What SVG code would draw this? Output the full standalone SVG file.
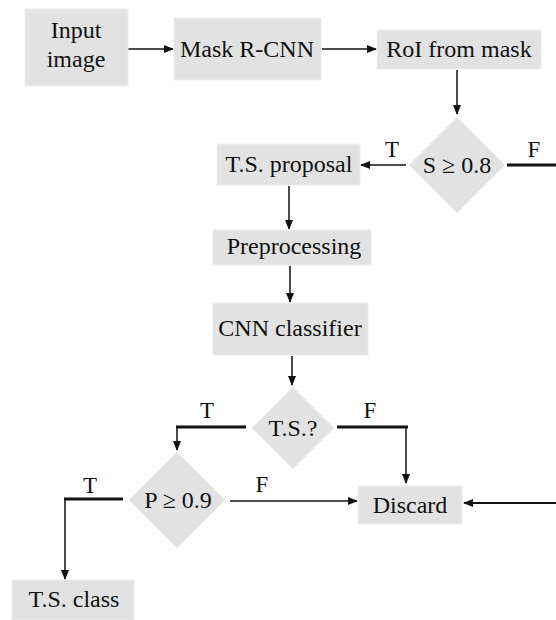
<svg xmlns="http://www.w3.org/2000/svg" width="556" height="620" viewBox="0 0 556 620">
  <style>
    .box { fill: #e2e2e2; stroke: #ededed; stroke-width: 1; }
    .dia { fill: #e2e2e2; }
    .txt { font-family: "Liberation Serif", "Times New Roman", serif; font-size: 24px; fill: #111; text-anchor: middle; }
    .lbl { font-family: "Liberation Serif", "Times New Roman", serif; font-size: 23px; fill: #111; text-anchor: middle; }
    .arr { fill: none; stroke: #111; stroke-width: 1.5; marker-end: url(#head); }
    .bar { fill: none; stroke: #111; stroke-width: 3; }
  </style>
  <defs>
    <marker id="head" markerUnits="userSpaceOnUse" markerWidth="10" markerHeight="8" refX="9" refY="4" orient="auto">
      <path d="M0,0 L10,4 L0,8 Z" fill="#111"/>
    </marker>
  </defs>
  <rect width="556" height="620" fill="#ffffff"/>

  <g id="connectors">
    <path class="arr" d="M128,49 H173"/>
    <path class="arr" d="M322,49 H376"/>
    <path class="arr" d="M457,70 V114"/>
    <path class="arr" d="M406,165 H361"/>
    <path class="bar" d="M507,165 H556"/>
    <path class="arr" d="M289,186 V229"/>
    <path class="arr" d="M290,266 V302"/>
    <path class="arr" d="M292,356 V385"/>
    <path class="bar" d="M246,427 H176"/>
    <path class="arr" d="M177,426 V450"/>
    <path class="bar" d="M337,427 H408"/>
    <path class="arr" d="M406,426 V483"/>
    <path class="bar" d="M123,499 H64"/>
    <path class="arr" d="M65,498 V579"/>
    <path class="arr" d="M230,501 H357"/>
    <path class="arr" style="stroke-width:2" d="M556,503 H464"/>
  </g>

  <g id="input-image">
    <rect class="box" x="25" y="9" width="103" height="77"/>
    <text class="txt" x="76" y="38">Input</text>
    <text class="txt" x="76" y="67">image</text>
  </g>
  <g id="mask-rcnn">
    <rect class="box" x="174" y="18" width="147" height="62"/>
    <text class="txt" x="247" y="57">Mask R-CNN</text>
  </g>
  <g id="roi-from-mask">
    <rect class="box" x="377" y="30" width="164" height="39"/>
    <text class="txt" x="459" y="57">RoI from mask</text>
  </g>
  <g id="score-check">
    <polygon class="dia" points="457,117 505,165 457,213 409,165"/>
    <text class="txt" x="457" y="173">S ≥ 0.8</text>
    <text class="lbl" x="392" y="157">T</text>
    <text class="lbl" x="534" y="157">F</text>
  </g>
  <g id="ts-proposal">
    <rect class="box" x="217" y="144" width="143" height="41"/>
    <text class="txt" x="289" y="172">T.S. proposal</text>
  </g>
  <g id="preprocessing">
    <rect class="box" x="213" y="230" width="158" height="35"/>
    <text class="txt" x="294" y="254">Preprocessing</text>
  </g>
  <g id="cnn-classifier">
    <rect class="box" x="213" y="303" width="155" height="52"/>
    <text class="txt" x="290" y="336">CNN classifier</text>
  </g>
  <g id="ts-check">
    <polygon class="dia" points="293,387 334,428 293,469 252,428"/>
    <text class="txt" x="293" y="436">T.S.?</text>
    <text class="lbl" x="207" y="418">T</text>
    <text class="lbl" x="370" y="418">F</text>
  </g>
  <g id="prob-check">
    <polygon class="dia" points="177,452 225,500 177,548 129,500"/>
    <text class="txt" x="178" y="508">P ≥ 0.9</text>
    <text class="lbl" x="90" y="493">T</text>
    <text class="lbl" x="262" y="492">F</text>
  </g>
  <g id="discard">
    <rect class="box" x="358" y="486" width="104" height="38"/>
    <text class="txt" x="410" y="513">Discard</text>
  </g>
  <g id="ts-class">
    <rect class="box" x="12" y="580" width="122" height="40"/>
    <text class="txt" x="74" y="607">T.S. class</text>
  </g>
</svg>
